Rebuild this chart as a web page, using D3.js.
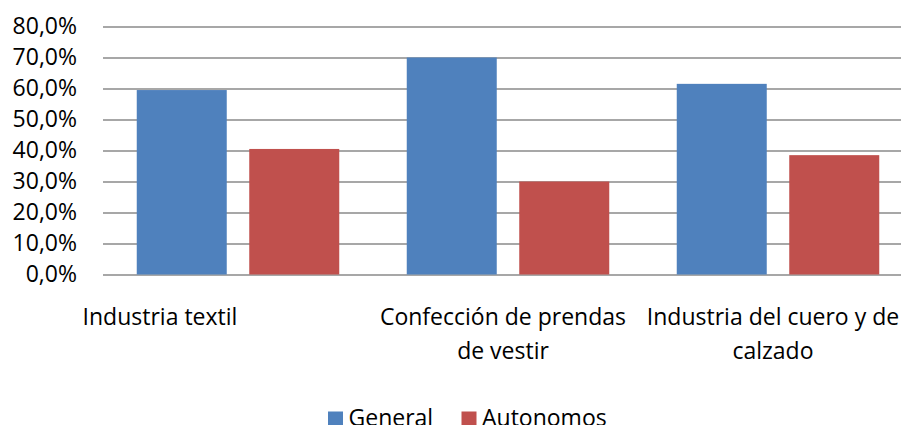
<!DOCTYPE html>
<html>
<head>
<meta charset="utf-8">
<script src="https://cdn.jsdelivr.net/npm/d3@7"></script>
<style>
  body { margin: 0; background: #fff; }
  svg { display: block; font-family: "Open Sans", sans-serif; }
</style>
</head>
<body>
<div id="grafico"></div>
<script>
// Datos
const categorias = ['Industria textil', 'Confección de prendas de vestir', 'Industria del cuero y de calzado'];
const etiquetas = [['Industria textil'], ['Confección de prendas', 'de vestir'], ['Industria del cuero y de', 'calzado']];
const series = ['General', 'Autonomos'];
const general = [0.595, 0.70, 0.615];
const autonomos = [0.405, 0.30, 0.385];
const yTicks = [0, 0.1, 0.2, 0.3, 0.4, 0.5, 0.6, 0.7, 0.8];

const colores = { General: '#4F81BD', Autonomos: '#C0504D' };

const ancho = 901, alto = 425;
const margin = { top: 26.5, left: 103, right: -12, bottom: 150.5 };
const tamLetra = '23px';

const svg = d3.select('#grafico').append('svg')
    .attr('width', ancho)
    .attr('height', alto);

const x = d3.scaleBand()
    .domain(categorias)
    .range([margin.left, ancho - margin.right])
    .padding(0);

const xs = d3.scaleBand()
    .domain(series)
    .range([0, x.bandwidth()])
    .paddingInner(0.2)
    .paddingOuter(0.3);

const y = d3.scaleLinear()
    .domain([0, 0.8])
    .range([alto - margin.bottom, margin.top]);

const locale = d3.formatLocale({ decimal: ',', thousands: '.', grouping: [3], currency: ['', '€'] });
const fmt = locale.format('.1%');

// Lineas de cuadricula + eje Y
const ejeY = svg.append('g')
    .attr('transform', `translate(${margin.left},0)`)
    .call(d3.axisLeft(y).tickValues(yTicks).tickFormat(fmt)
        .tickSize(-(ancho - margin.right - margin.left)).tickPadding(26));
ejeY.select('.domain').remove();
ejeY.selectAll('.tick line')
    .attr('stroke', '#8a8a8a')
    .attr('stroke-width', 1.6);
ejeY.selectAll('.tick text')
    .attr('fill', '#000')
    .style('font-size', tamLetra)
    .style('font-family', '"Open Sans", sans-serif');

// Barras
const datos = categorias.map((c, i) => ({ cat: c, valores: [
    { serie: 'General', valor: general[i] },
    { serie: 'Autonomos', valor: autonomos[i] }
]}));

const grupos = svg.append('g').selectAll('g')
    .data(datos)
    .join('g')
    .attr('transform', d => `translate(${x(d.cat)},0)`);

grupos.selectAll('rect')
    .data(d => d.valores)
    .join('rect')
    .attr('x', d => xs(d.serie))
    .attr('y', d => y(d.valor))
    .attr('width', xs.bandwidth())
    .attr('height', d => y(0) - y(d.valor))
    .attr('fill', d => colores[d.serie]);

// Etiquetas de categoria (Excel las desplaza un poco)
const desplaz = [-78, -5, -5];
const et = svg.append('g').selectAll('text')
    .data(categorias)
    .join('text')
    .attr('text-anchor', 'middle')
    .attr('fill', '#000')
    .style('font-size', tamLetra)
    .attr('y', 325);
et.each(function (d, i) {
    const t = d3.select(this);
    etiquetas[i].forEach((linea, k) => {
        t.append('tspan')
            .attr('x', x(d) + x.bandwidth() / 2 + desplaz[i])
            .attr('dy', k === 0 ? 0 : 33.5)
            .text(linea);
    });
});

// Leyenda
const leyenda = svg.append('g').attr('transform', 'translate(328,411.5)');
const items = leyenda.selectAll('g')
    .data(series)
    .join('g')
    .attr('transform', (d, i) => `translate(${i * 133.5},0)`);
items.append('rect')
    .attr('width', 15)
    .attr('height', 15)
    .attr('fill', d => colores[d]);
items.append('text')
    .attr('x', 20.5)
    .attr('y', 14)
    .attr('fill', '#000')
    .style('font-size', tamLetra)
    .text(d => d);
</script>
</body>
</html>
